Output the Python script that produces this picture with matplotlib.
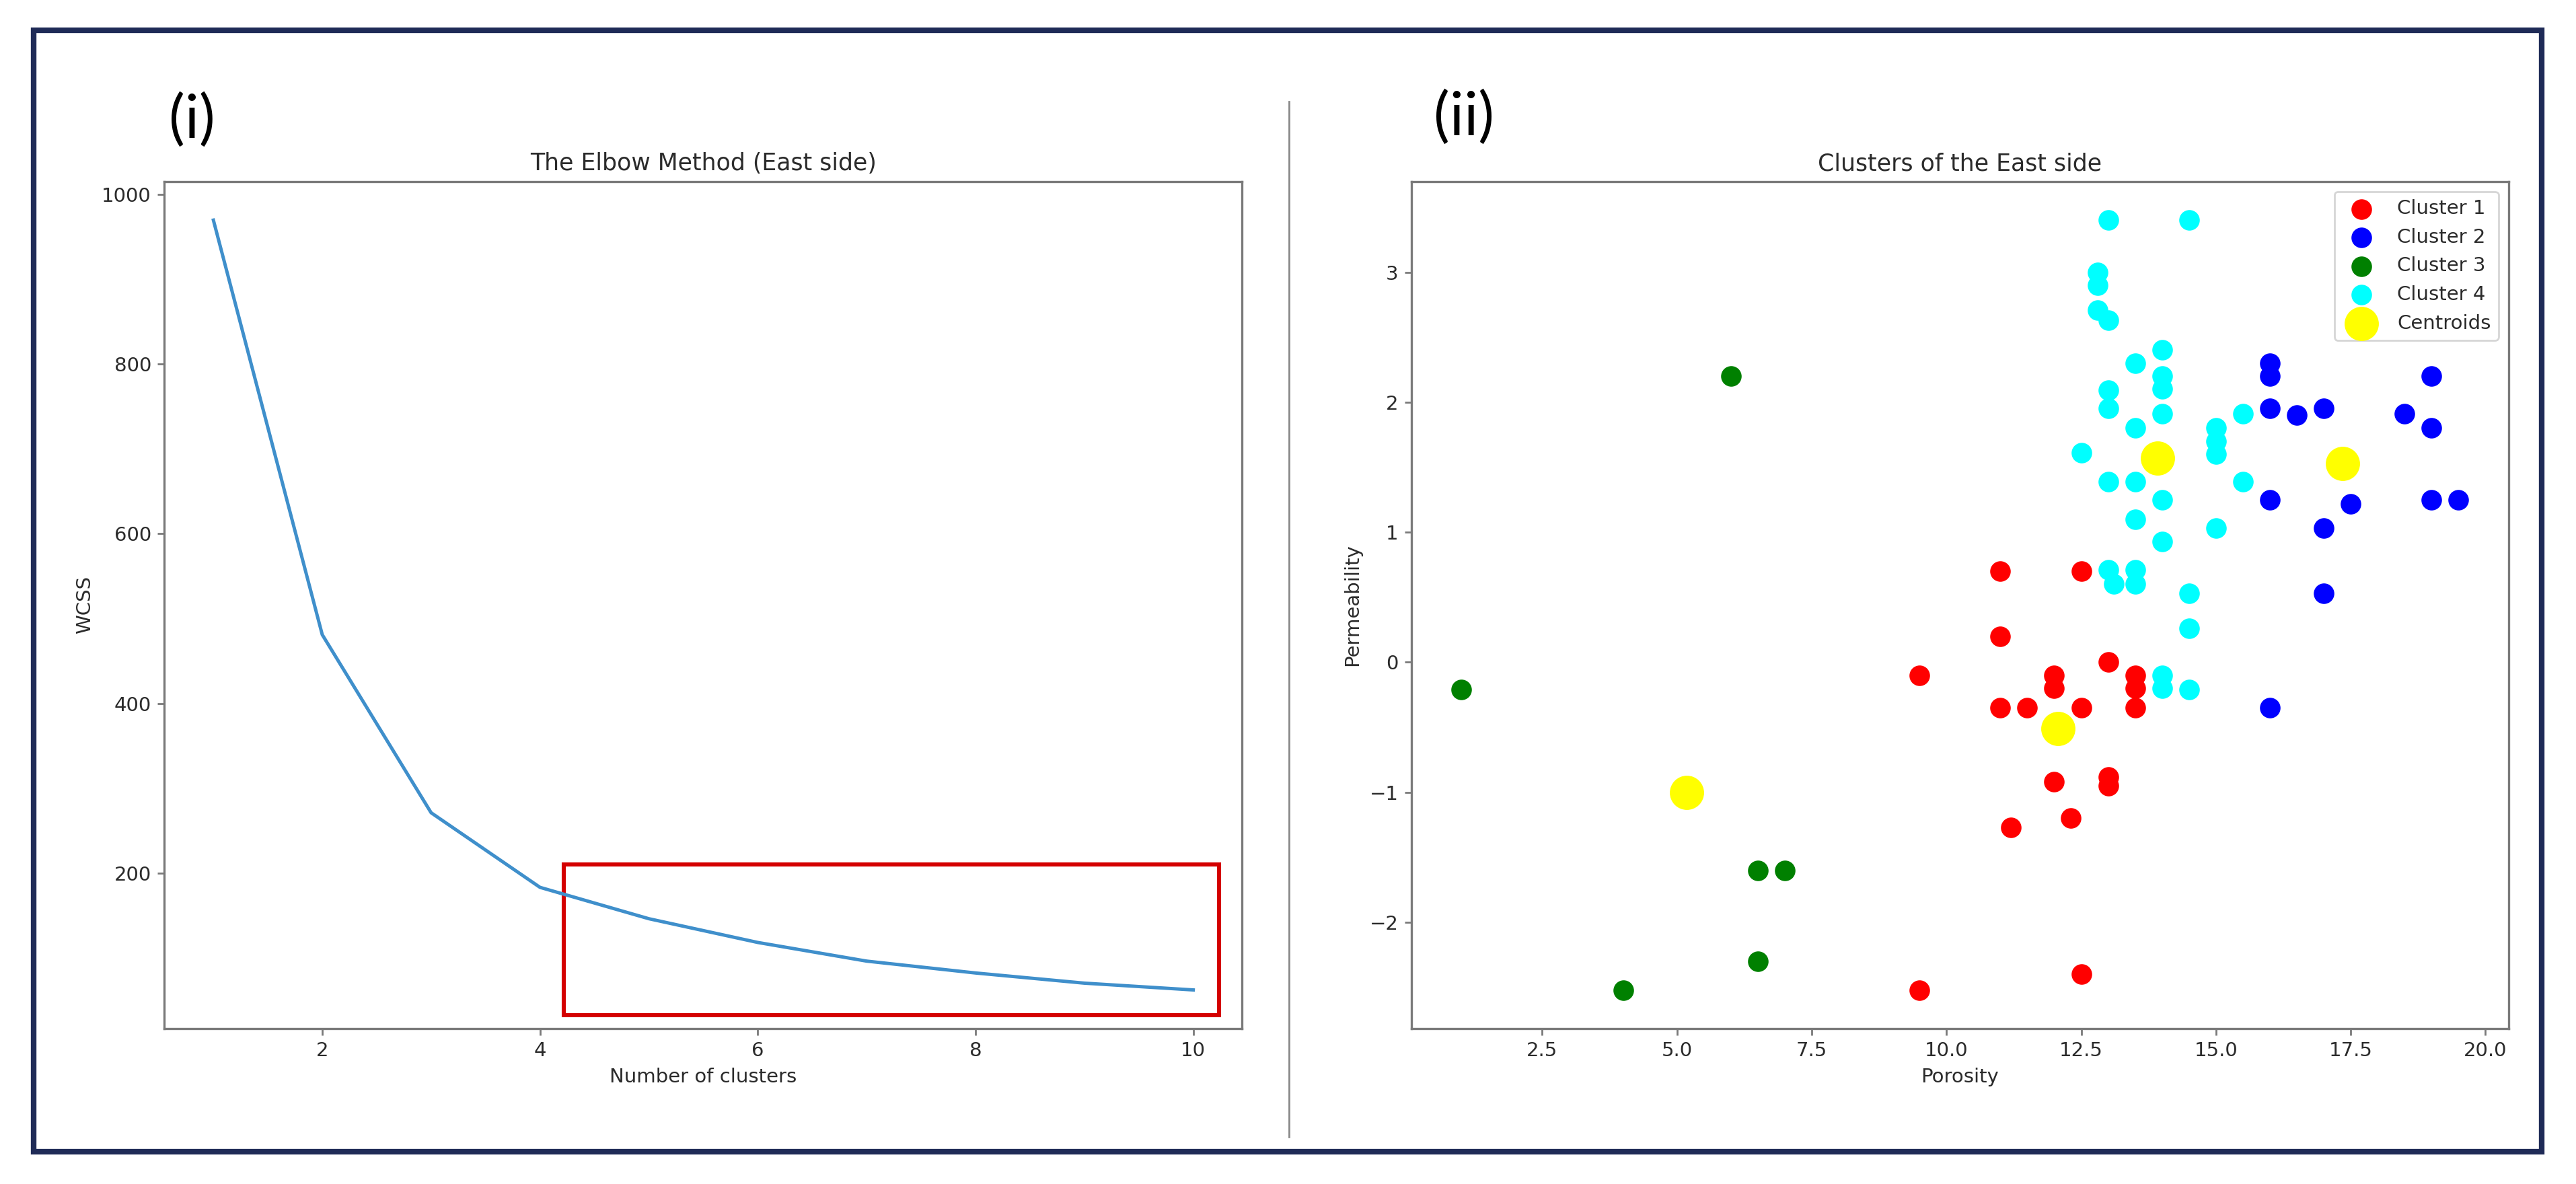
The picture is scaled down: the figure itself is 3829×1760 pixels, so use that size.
import matplotlib.pyplot as plt
from matplotlib.patches import Rectangle
from matplotlib.lines import Line2D

# Elbow curve (East side)
n_clusters = list(range(1, 11))
wcss = [970, 481, 271, 183, 146, 118, 96, 82, 70, 62]

# Highlight box on the flat part of the curve
box_x = [4.22, 10.24]
box_y = [32, 210]

# Clusters of the East side (porosity, permeability)
c1_x = [11.0, 12.5, 11.0, 9.5, 13.0, 12.0, 12.0, 13.5, 13.5, 13.5, 11.0, 11.5,
        12.5, 12.0, 13.0, 13.0, 11.2, 12.3, 12.5, 9.5]
c1_y = [0.7, 0.7, 0.2, -0.1, 0.0, -0.1, -0.2, -0.1, -0.2, -0.35, -0.35, -0.35,
        -0.35, -0.92, -0.88, -0.95, -1.27, -1.2, -2.4, -2.52]
c2_x = [16.0, 16.0, 16.0, 16.5, 17.0, 18.5, 19.0, 19.0, 16.0, 17.5, 19.0, 19.5,
        17.0, 17.0, 16.0]
c2_y = [2.3, 2.2, 1.95, 1.9, 1.95, 1.91, 2.2, 1.8, 1.25, 1.22, 1.25, 1.25,
        1.03, 0.53, -0.35]
c3_x = [6.0, 1.0, 6.5, 7.0, 6.5, 4.0]
c3_y = [2.2, -0.21, -1.6, -1.6, -2.3, -2.52]
c4_x = [13.0, 14.5, 12.8, 12.8, 12.8, 13.0, 13.5, 14.0, 14.0, 14.0, 14.0, 13.0,
        13.0, 13.5, 12.5, 15.0, 15.0, 15.0, 15.5, 15.5, 13.0, 13.5, 14.0, 13.5,
        15.0, 14.0, 13.0, 13.1, 13.5, 13.5, 14.5, 14.5, 14.0, 14.0, 14.5]
c4_y = [3.4, 3.4, 3.0, 2.9, 2.71, 2.63, 2.3, 2.4, 2.2, 2.1, 1.91, 2.09,
        1.95, 1.8, 1.61, 1.8, 1.7, 1.6, 1.91, 1.39, 1.39, 1.39, 1.25, 1.1,
        1.03, 0.93, 0.71, 0.6, 0.71, 0.6, 0.53, 0.26, -0.1, -0.2, -0.21]
cent_x = [13.91, 17.35, 12.07, 5.18]
cent_y = [1.57, 1.53, -0.51, -1.0]

spine_col = '#7a7a7a'
text_col = '#2b2b2b'


def style_axes(ax):
    for s in ax.spines.values():
        s.set_color(spine_col)
        s.set_linewidth(1.2)
    ax.tick_params(colors=spine_col, labelcolor=text_col, width=1.0, labelsize=10.5)


fig = plt.figure(figsize=(19.15, 8.8), dpi=200)

# (i) elbow plot
ax1 = fig.add_axes([0.0638, 0.1314, 0.4183, 0.7152])
ax1.plot(n_clusters, wcss, color='#3f8fcb', lw=1.8)
# freeze limits so the highlight box doesn't change them
ax1.set_xlim(ax1.get_xlim())
ax1.set_ylim(ax1.get_ylim())
ax1.add_patch(Rectangle((box_x[0], box_y[0]), box_x[1] - box_x[0], box_y[1] - box_y[0],
                        fill=False, edgecolor='#d40000', lw=2.2, clip_on=False))
ax1.set_title('The Elbow Method (East side)', color=text_col, fontsize=12.5)
ax1.set_xlabel('Number of clusters', color=text_col, fontsize=10.5)
ax1.set_ylabel('WCSS', color=text_col, fontsize=10.5)
style_axes(ax1)

# (ii) clusters scatter
ax2 = fig.add_axes([0.5478, 0.1314, 0.4257, 0.7152])
ax2.scatter(c1_x, c1_y, s=100, c='red', label='Cluster 1')
ax2.scatter(c2_x, c2_y, s=100, c='blue', label='Cluster 2')
ax2.scatter(c3_x, c3_y, s=100, c='green', label='Cluster 3')
ax2.scatter(c4_x, c4_y, s=100, c='cyan', label='Cluster 4')
ax2.scatter(cent_x, cent_y, s=300, c='yellow', label='Centroids')
ax2.set_title('Clusters of the East side', color=text_col, fontsize=12.5)
ax2.set_xlabel('Porosity', color=text_col, fontsize=10.5)
ax2.set_ylabel('Permeability', color=text_col, fontsize=10.5)
leg = ax2.legend(loc='upper right', fontsize=10.5)
for t in leg.get_texts():
    t.set_color(text_col)
style_axes(ax2)

# panel labels
fig.text(0.0655, 0.898, '(i)', fontsize=32, family='Lato', va='center', ha='left')
fig.text(0.5565, 0.900, '(ii)', fontsize=32, family='Lato', va='center', ha='left')

# separator and outer frame
fig.add_artist(Line2D([0.5003, 0.5003], [0.040, 0.914], transform=fig.transFigure,
                      color='#8a8a8a', lw=1.0))
fig.add_artist(Rectangle((0.0130, 0.0273), 0.9735, 0.9469, transform=fig.transFigure,
                         fill=False, edgecolor='#1f2b57', lw=3.0))

fig.savefig('out.png', dpi=200, facecolor='white')
